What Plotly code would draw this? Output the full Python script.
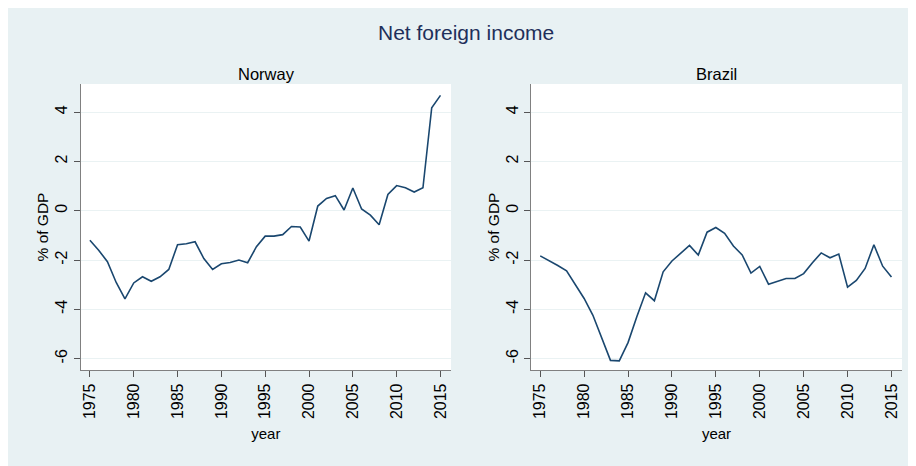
import plotly.graph_objects as go

years = list(range(1975, 2016))
norway = [-1.20, -1.60, -2.07, -2.91, -3.58, -2.93, -2.68, -2.86, -2.68, -2.38,
          -1.38, -1.34, -1.26, -1.94, -2.38, -2.15, -2.10, -2.00, -2.11, -1.46,
          -1.03, -1.03, -0.97, -0.64, -0.66, -1.23, 0.19, 0.50, 0.61, 0.03,
          0.92, 0.07, -0.18, -0.57, 0.66, 1.02, 0.93, 0.76, 0.93, 4.18, 4.68]
brazil = [-1.83, -2.02, -2.22, -2.44, -3.00, -3.56, -4.24, -5.14, -6.07, -6.09,
          -5.35, -4.30, -3.33, -3.65, -2.48, -2.04, -1.71, -1.41, -1.80, -0.87,
          -0.68, -0.92, -1.43, -1.79, -2.53, -2.26, -2.98, -2.87, -2.75, -2.75,
          -2.55, -2.11, -1.71, -1.91, -1.76, -3.10, -2.83, -2.34, -1.38, -2.25, -2.69]
x_ticks = [1975, 1980, 1985, 1990, 1995, 2000, 2005, 2010, 2015]
y_ticks = [-6, -4, -2, 0, 2, 4]
y_tick_labels = ["-6", "-4", "-2", "0", "2", "4"]
panel_titles = ["Norway", "Brazil"]
main_title = "Net foreign income"

OFF = 8
W, H = 916 - OFF, 466 - OFF
FONT = "Liberation Sans, Arial, sans-serif"
LINE = "#1a476f"
BG = "#e8f1f3"
GRID = "#eaf2f3"
AXC = "#808080"

def px(x):
    return (x - OFF) / W

def py(y):
    return (H - (y - OFF)) / H

fig = go.Figure()
fig.add_trace(go.Scatter(x=years, y=norway, mode="lines", line=dict(color=LINE, width=1.6),
                         xaxis="x", yaxis="y", showlegend=False))
fig.add_trace(go.Scatter(x=years, y=brazil, mode="lines", line=dict(color=LINE, width=1.6),
                         xaxis="x2", yaxis="y2", showlegend=False))

ydom = [py(370), py(84)]
doms = [[px(80.7), px(451)], [px(531), px(902)]]

def xax(dom, anchor):
    return dict(domain=dom, anchor=anchor, range=[1973.95, 2016.2], tickvals=x_ticks,
                tickangle=-90, ticks="outside", ticklen=6, tickcolor="#555555",
                showline=True, linecolor=AXC, linewidth=1.2, showgrid=False, zeroline=False,
                tickfont=dict(family=FONT, size=16, color="#000"),
                title=dict(text="year", font=dict(family=FONT, size=15, color="#000"), standoff=10))

def yax(anchor):
    return dict(domain=ydom, anchor=anchor, range=[-6.46, 5.14], tickvals=y_ticks,
                ticktext=y_tick_labels,
                tickangle=-90, ticks="outside", ticklen=6, tickcolor="#555555",
                showline=True, linecolor=AXC, linewidth=1.2, showgrid=True, gridcolor=GRID,
                gridwidth=1.2, zeroline=False,
                tickfont=dict(family=FONT, size=16, color="#000"),
                title=dict(text="% of GDP", font=dict(family=FONT, size=15.5, color="#000"), standoff=0))

fig.update_layout(
    width=W, height=H,
    margin=dict(l=0, r=0, t=0, b=0),
    paper_bgcolor=BG, plot_bgcolor="white",
    xaxis=xax(doms[0], "y"), yaxis=yax("x"),
    xaxis2=xax(doms[1], "y2"), yaxis2=yax("x2"),
    annotations=[
        dict(text=main_title, x=px(466), y=py(32), xref="paper", yref="paper",
             showarrow=False, font=dict(family=FONT, size=21, color="#1e2f5a"),
             xanchor="center", yanchor="middle"),
        dict(text=panel_titles[0], x=px(266), y=py(74), xref="paper", yref="paper",
             showarrow=False, font=dict(family=FONT, size=16.5, color="#000"),
             xanchor="center", yanchor="middle"),
        dict(text=panel_titles[1], x=px(716), y=py(74), xref="paper", yref="paper",
             showarrow=False, font=dict(family=FONT, size=16.5, color="#000"),
             xanchor="center", yanchor="middle"),
    ],
)

fig.write_html("out.html")
